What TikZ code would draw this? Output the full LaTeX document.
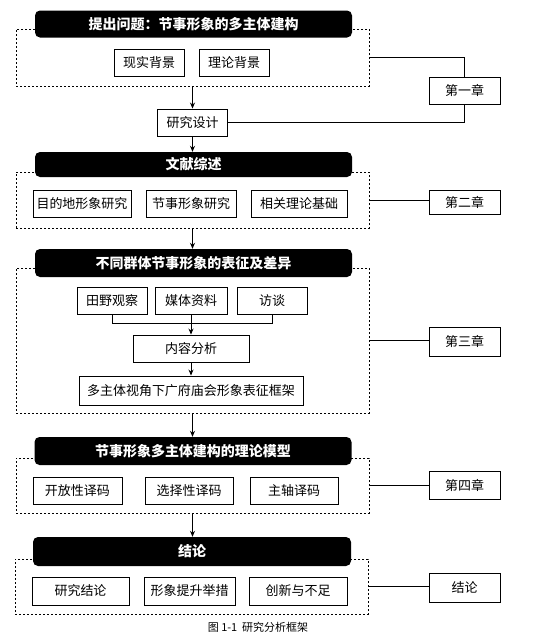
\documentclass[tikz,border=0pt]{standalone}
\usepackage{fontspec}
\setmainfont{Noto Sans CJK SC}
\usetikzlibrary{arrows.meta}
\tikzset{
    headbox/.style = {fill = black, rounded corners = 5pt, text = white, minimum width = 317pt, minimum height = 27pt, inner sep = 0pt, font = \bfseries\fontsize{14}{16}\selectfont},
    itembox/.style = {draw, line width = 0.9pt, minimum height = 27pt, inner sep = 0pt, font = \fontsize{13}{15}\selectfont},
    chapbox/.style = {draw, line width = 0.9pt, minimum width = 71pt, minimum height = 27pt, inner sep = 0pt, font = \fontsize{13}{15}\selectfont},
    groupbox/.style = {draw, line width = 0.6pt, dash pattern = on 2pt off 2pt, minimum width = 353pt, inner sep = 0pt},
    link/.style = {line width = 0.8pt},
    arr/.style = {line width = 0.8pt, -{Stealth[length = 6pt, width = 5pt]}}
}
\begin{document}
\begin{tikzpicture}[x = 1pt, y = -1pt]
    \useasboundingbox (0,0) rectangle (553,638);
    % chapter one
    \node [groupbox, minimum height = 57pt] (g1) at (192.5,57.5) {};
    \node [headbox] (t1) at (193.5,24) {提出问题：节事形象的多主体建构};
    \node [itembox, minimum width = 70pt] (a1) at (149,62.5) {现实背景};
    \node [itembox, minimum width = 70pt] (a2) at (234,62.5) {理论背景};
    \node [itembox, minimum width = 70pt] (design) at (192.5,122.5) {研究设计};
    \node [chapbox] (c1) at (464.5,90.5) {第一章};
    \draw [link] (g1.east) -| (c1.north);
    \draw [link] (design.east) -| (c1.south);
    \draw [arr] (g1.south -| design.north) -- (design.north);
    % chapter two
    \node [groupbox, minimum height = 56pt] (g2) at (192.5,200) {};
    \node [headbox, minimum height = 25pt] (t2) at (193.5,164.5) {文献综述};
    \node [itembox, minimum width = 98pt] (b1) at (82,203.5) {目的地形象研究};
    \node [itembox, minimum width = 90pt] (b2) at (191,203.5) {节事形象研究};
    \node [itembox, minimum width = 96pt] (b3) at (299,203.5) {相关理论基础};
    \node [chapbox, minimum height = 24pt] (c2) at (464.5,202) {第二章};
    \draw [arr] (design.south) -- (t2.north -| design.south);
    \draw [link] (g2.east) -- (g2.east -| c2.west);
    % chapter three
    \node [groupbox, minimum height = 145pt] (g3) at (192.5,340.5) {};
    \node [headbox, minimum height = 28pt] (t3) at (193.5,263) {不同群体节事形象的表征及差异};
    \node [itembox, minimum width = 70pt] (d1) at (112,300.5) {田野观察};
    \node [itembox, minimum width = 72pt] (d2) at (191,300.5) {媒体资料};
    \node [itembox, minimum width = 70pt] (d3) at (272,300.5) {访谈};
    \node [itembox, minimum width = 116pt] (analysis) at (191,348.5) {内容分析};
    \node [itembox, minimum width = 224pt, minimum height = 29pt] (frame) at (191,390.5) {多主体视角下广府庙会形象表征框架};
    \node [chapbox, minimum height = 29pt] (c3) at (464.5,341.5) {第三章};
    \draw [arr] (g2.south -| design) -- (t3.north -| design);
    \draw [link] (d1.south) -- ++(0,9) -| (d3.south);
    \draw [arr] (d2.south) -- (analysis.north);
    \draw [arr] (analysis.south) -- (frame.north);
    \draw [link] (g3.east) -- (g3.east -| c3.west);
    % chapter four
    \node [groupbox, minimum height = 55pt] (g4) at (192.5,485.5) {};
    \node [headbox, minimum height = 28pt] (t4) at (193,451) {节事形象多主体建构的理论模型};
    \node [itembox, minimum width = 89pt] (e1) at (77.5,490.5) {开放性译码};
    \node [itembox, minimum width = 88pt] (e2) at (189,490.5) {选择性译码};
    \node [itembox, minimum width = 88pt] (e3) at (294,490.5) {主轴译码};
    \node [chapbox, minimum height = 28pt] (c4) at (464.5,485) {第四章};
    \draw [arr] (g3.south -| design) -- (t4.north -| design);
    \draw [link] (g4.east) -- (g4.east -| c4.west);
    % conclusion
    \node [groupbox, minimum height = 55pt] (g5) at (191.5,586.5) {};
    \node [headbox, minimum width = 318pt, minimum height = 29pt] (t5) at (192,551.5) {结论};
    \node [itembox, minimum width = 97pt, minimum height = 28pt] (f1) at (80.5,591) {研究结论};
    \node [itembox, minimum width = 91pt, minimum height = 28pt] (f2) at (189.5,591) {形象提升举措};
    \node [itembox, minimum width = 98pt, minimum height = 28pt] (f3) at (298,591) {创新与不足};
    \node [chapbox, minimum height = 29pt] (c5) at (464.5,587.5) {结论};
    \draw [arr] (g4.south -| design) -- (t5.north -| design);
    \draw [link] (g5.east) -- (g5.east -| c5.west);
    \node [font = \fontsize{11}{12}\selectfont] (caption) at (258,627) {图 1-1\ \ 研究分析框架};
\end{tikzpicture}
\end{document}
